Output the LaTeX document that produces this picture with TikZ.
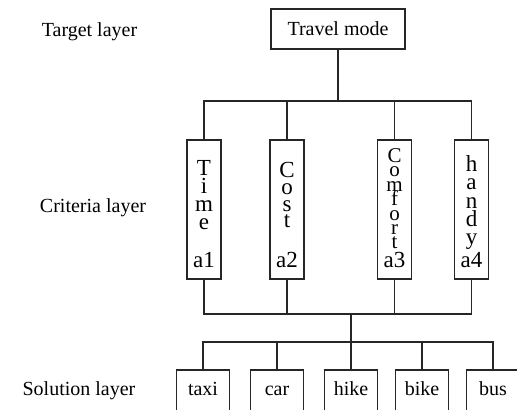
\documentclass[tikz,border=0pt]{standalone}
\usepackage{fontspec}
\setmainfont{Liberation Serif}
\newcommand\stackfont[2]{\fontsize{#1}{#2}\selectfont\lineskiplimit=-20pt\relax}
\begin{document}
\begin{tikzpicture}[x=0.5pt, y=-0.5pt, line width=0.65pt, draw=black!85,
    goalbox/.style={draw, inner sep=0pt, minimum width=67pt, minimum height=20pt},
    critbox/.style={draw, inner sep=0pt, minimum width=17pt, minimum height=69.5pt},
    solbox/.style={draw, inner sep=0pt, minimum width=26.5pt, minimum height=24pt,
      text height=8pt, text depth=7pt},
    letters/.style 2 args={anchor=north, inner sep=0pt, align=center, font=\stackfont{#1}{#2}},
    critlabel/.style={anchor=base, inner sep=0pt, font=\fontsize{11.5}{13}\selectfont},
    layer/.style={anchor=base, inner sep=0pt}]
  \clip (0,0) rectangle (517,410);
  % layer names
  \node[layer] (lt) at (89.5,36.5) {Target layer};
  \node[layer] (lc) at (93,213) {Criteria layer};
  \node[layer] (ls) at (79,395) {Solution layer};
  % target
  \node[goalbox] (goal) at (338,29) {Travel mode};
  % criteria
  \node[critbox] (c1) at (204,209.5) {};
  \node[critbox] (c2) at (287,209.5) {};
  \node[critbox] (c3) at (394.5,209.5) {};
  \node[critbox] (c4) at (471.5,209.5) {};
  \node[letters={11.5}{9pt}] (w1) at (204,160) {T\\i\\m\\e};
  \node[letters={11.5}{8.3pt}] (w2) at (287,162) {C\\o\\s\\t};
  \node[letters={10.5}{7.2pt}] (w3) at (394.5,148) {C\\o\\m\\f\\o\\r\\t};
  \node[letters={11.5}{9.1pt}] (w4) at (471.5,155) {h\\a\\n\\d\\y};
  \node[critlabel] (a1) at (204,268) {a1};
  \node[critlabel] (a2) at (287,268) {a2};
  \node[critlabel] (a3) at (394.5,268) {a3};
  \node[critlabel] (a4) at (471.5,268) {a4};
  % solutions
  \node[solbox] (s1) at (203,394) {taxi};
  \node[solbox] (s2) at (277,394) {car};
  \node[solbox] (s3) at (351,394) {hike};
  \node[solbox] (s4) at (422,394) {bike};
  \node[solbox] (s5) at (493,394) {bus};
  % connectors
  \coordinate (topbar) at (338,101);
  \coordinate (midbar) at (351,314);
  \coordinate (solbar) at (351,342);
  \draw (goal.south) -- (topbar);
  \draw (c1.north) |- (topbar) -| (c4.north);
  \draw (c2.north) -- (c2.north |- topbar);
  \draw (c3.north) -- (c3.north |- topbar);
  \draw (c1.south) |- (midbar) -| (c4.south);
  \draw (c2.south) -- (c2.south |- midbar);
  \draw (c3.south) -- (c3.south |- midbar);
  \draw (midbar) -- (solbar);
  \draw (s1.north) |- (solbar) -| (s5.north);
  \draw (s2.north) -- (s2.north |- solbar);
  \draw (s3.north) -- (solbar);
  \draw (s4.north) -- (s4.north |- solbar);
\end{tikzpicture}
\end{document}
